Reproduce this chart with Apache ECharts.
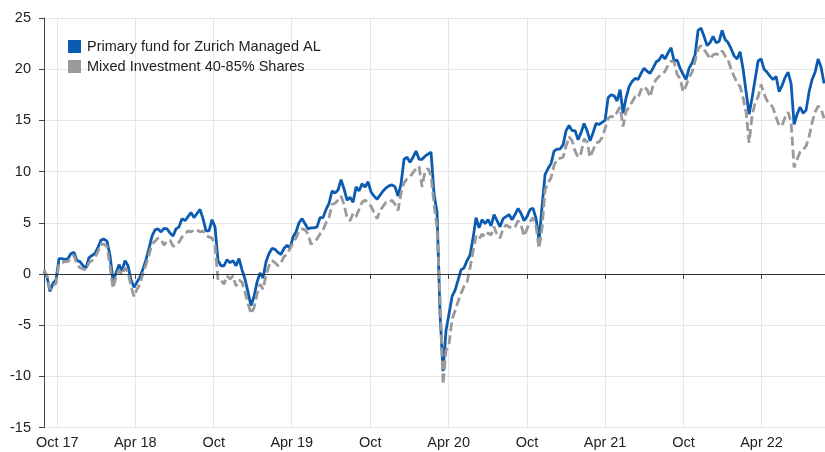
<!DOCTYPE html>
<html>
<head>
<meta charset="utf-8">
<script src="https://cdn.jsdelivr.net/npm/echarts@6/dist/echarts.min.js"></script>
<style>
  html, body { margin: 0; padding: 0; background: #fff; }
  #chart { width: 825px; height: 452px; }
</style>
</head>
<body>
<div id="chart"></div>
<script>
// weekly observations, week 0 = 31 Aug 2017
var startDate = '2017-08-31';

var fundName = 'Primary fund for Zurich Managed AL';
var sectorName = 'Mixed Investment 40-85% Shares';

var fundValues = [
    0.2, -0.3, -1.7, -0.9, -0.6, 1.5, 1.5, 1.4, 1.5, 2.0,
    2.1, 1.3, 1.2, 0.8, 0.6, 1.6, 1.8, 2.0, 2.6, 3.3,
    3.4, 3.2, 1.8, -0.7, 0.1, 0.9, 0.3, 1.3, 0.8, -0.6,
    -1.3, -0.8, -0.3, 0.5, 1.4, 2.5, 3.7, 4.3, 4.4, 4.1,
    4.45, 4.4, 4.0, 3.7, 4.4, 4.6, 5.4, 5.2, 5.6, 6.0,
    5.5, 5.9, 6.3, 5.4, 4.2, 4.2, 5.3, 4.6, 1.3, 0.8,
    0.8, 1.4, 1.1, 1.3, 0.8, 1.5, 0.4, -0.5, -1.8, -3.1,
    -2.2, -0.8, 0.1, -0.4, 1.2, 2.0, 2.5, 2.4, 2.1, 1.9,
    2.5, 2.8, 2.5, 3.6, 4.1, 5.0, 5.4, 4.9, 4.4, 4.5,
    4.5, 4.6, 5.5, 5.5, 6.3, 6.9, 8.1, 7.9, 8.2, 9.2,
    8.3, 7.2, 7.5, 7.0, 8.5, 8.1, 8.8, 8.5, 9.0, 8.0,
    7.6, 7.3, 7.7, 8.1, 8.4, 8.6, 8.7, 8.5, 7.6, 8.8,
    11.2, 11.4, 10.9, 11.4, 12.0, 11.2, 11.2, 11.5, 11.7, 11.9,
    7.8, 6.0, -3.9, -9.5, -5.5, -3.9, -2.2, -1.6, -0.6, 0.4,
    0.6, 1.3, 1.85, 3.5, 5.5, 4.5, 5.3, 4.9, 5.3, 4.7,
    5.8, 5.2, 4.6, 5.4, 5.6, 5.8, 5.3, 5.8, 6.4, 5.9,
    5.2, 5.6, 6.3, 6.4, 5.4, 3.3, 6.6, 9.7, 10.3, 10.8,
    12.0, 12.2, 12.2, 12.6, 14.0, 14.5, 14.0, 14.0, 13.1, 13.8,
    14.7, 14.0, 13.0, 13.8, 14.7, 14.6, 14.8, 15.0, 17.2, 17.5,
    17.4, 16.9, 18.0, 15.7, 17.2, 18.3, 18.8, 19.1, 19.0, 19.6,
    20.1, 19.8, 19.6, 20.1, 20.7, 20.9, 21.4, 21.0, 21.6, 22.1,
    20.8, 20.9, 20.1, 19.5, 19.0, 20.1, 20.6, 21.4, 23.8, 24.0,
    23.2, 22.3, 22.6, 23.2, 22.6, 22.7, 23.8, 22.9, 22.6, 22.0,
    21.3, 21.0, 21.7, 20.0, 17.8, 15.6, 17.2, 19.0, 20.8, 21.0,
    20.0, 19.7, 19.3, 19.0, 19.3, 17.8, 18.4, 19.2, 19.7, 18.6,
    14.6, 15.6, 16.3, 15.7, 16.0, 17.8, 19.0, 19.7, 21.0, 20.2,
    18.6
];

var sectorValues = [
    0.4, -0.2, -1.5, -1.2, -0.9, 1.0, 1.1, 1.2, 1.2, 1.6,
    1.8, 0.9, 0.6, 0.5, 0.4, 1.1, 1.3, 1.6, 2.2, 2.9,
    2.9, 2.7, 0.8, -1.4, -0.3, 0.4, -0.1, 0.6, 0.2, -1.2,
    -2.2, -1.5, -1.0, 0.1, 0.9, 1.9, 2.9, 3.2, 3.5, 3.4,
    2.8, 3.2, 3.3, 2.7, 2.8, 3.1, 3.6, 3.9, 4.2, 4.1,
    4.3, 4.3, 4.1, 4.2, 3.8, 3.6, 3.5, 2.8, -0.6, -0.6,
    -1.0, -0.2, -0.5, -0.2, -1.2, -0.6, -0.8, -1.8, -2.9, -3.9,
    -3.3, -2.0, -1.0, -1.5, -0.1, 0.8, 1.3, 1.1, 0.8, 1.1,
    1.7, 1.9, 2.5, 3.0, 3.5, 4.2, 4.4, 4.3, 3.9, 2.9,
    3.2, 3.4, 3.9, 4.3, 5.0, 5.5, 6.8, 6.9, 7.2, 7.6,
    6.8, 5.5, 5.2, 5.9, 5.6, 6.3, 7.0, 7.2, 7.0, 6.6,
    6.0, 5.4, 6.2, 6.6, 7.0, 7.0, 7.2, 6.8, 6.2, 7.9,
    8.9, 9.3, 9.5, 9.9, 10.3, 10.5, 8.5, 10.0, 10.3, 9.6,
    6.8, 4.5, -2.3, -10.8, -7.5, -6.9, -4.4, -3.6, -2.7, -1.9,
    -1.2, -0.8, 0.6, 2.2, 3.7, 3.4, 3.9, 3.6, 4.0, 3.8,
    4.6, 3.8, 3.5, 4.4, 4.8, 4.6, 4.5, 4.6, 5.2, 4.8,
    3.7, 4.4, 5.1, 5.5, 4.6, 2.5, 4.5, 8.2, 8.9, 9.4,
    10.6, 11.2, 11.3, 11.4, 12.5, 13.4, 13.0, 12.0, 11.4, 11.8,
    13.2, 12.9, 11.4, 12.1, 12.8, 12.9, 13.3, 14.2, 15.2, 15.4,
    15.3, 15.8, 16.3, 14.4, 15.9, 16.3, 16.8, 17.3, 17.2, 18.0,
    18.3, 18.0, 17.3, 18.4, 19.0, 19.3, 19.5, 19.8, 20.4, 20.8,
    20.7, 19.5, 19.1, 17.8, 18.4, 19.2, 19.7, 20.8, 22.0, 22.3,
    21.9, 21.5, 21.0, 21.4, 21.5, 21.4, 21.8, 21.3, 20.9, 20.0,
    19.3, 18.7, 18.3, 17.2, 15.8, 12.8, 15.5, 16.7, 17.3, 18.5,
    17.6, 16.9, 16.7, 16.2, 15.3, 14.5, 14.5, 15.3, 15.8, 14.8,
    10.4, 11.2, 11.9, 12.1, 12.5, 13.4, 14.8, 15.8, 16.4, 16.1,
    15.2
];

var tickDates = ['2017-10-01', '2018-04-01', '2018-10-01', '2019-04-01', '2019-10-01',
    '2020-04-01', '2020-10-01', '2021-04-01', '2021-10-01', '2022-04-01'];
var tickLabels = ['Oct 17', 'Apr 18', 'Oct', 'Apr 19', 'Oct', 'Apr 20', 'Oct', 'Apr 21', 'Oct', 'Apr 22'];

var yTicks = [-15, -10, -5, 0, 5, 10, 15, 20, 25];

// tick positions in weeks from the start date
var weekMs = 7 * 24 * 3600 * 1000;
var t0 = Date.parse(startDate + 'T00:00:00Z');
var tickWeeks = tickDates.map(function (d) {
    return (Date.parse(d + 'T00:00:00Z') - t0) / weekMs;
});

function toPairs(values) {
    return values.map(function (v, i) { return [i, v]; });
}

var chart = echarts.init(document.getElementById('chart'));
var font = 'Liberation Sans, Arial, sans-serif';

chart.setOption({
    animation: false,
    textStyle: { fontFamily: font },
    grid: { left: 44, right: 0, top: 18, bottom: 24.5, containLabel: false },
    legend: {
        orient: 'vertical',
        left: 63,
        top: 34,
        itemWidth: 13,
        itemHeight: 13,
        itemGap: 5,
        icon: 'rect',
        textStyle: { fontSize: 14.5, color: '#222', fontFamily: font, padding: [0, 0, 0, 1] },
        data: [fundName, sectorName]
    },
    xAxis: {
        type: 'value',
        min: 0,
        max: 260.3,
        axisLine: { show: true, lineStyle: { color: '#444', width: 1 } },
        axisTick: { show: true, length: 5, lineStyle: { color: '#444' }, customValues: tickWeeks },
        axisLabel: {
            customValues: tickWeeks,
            color: '#222',
            fontSize: 14.5,
            margin: 8,
            formatter: function (val) {
                var k = 0, best = Infinity;
                tickWeeks.forEach(function (w, j) {
                    if (Math.abs(w - val) < best) { best = Math.abs(w - val); k = j; }
                });
                return tickLabels[k];
            }
        },
        splitLine: { show: true, lineStyle: { color: '#e6e6e6', width: 1 } }
    },
    yAxis: {
        type: 'value',
        min: yTicks[0],
        max: yTicks[yTicks.length - 1],
        interval: 5,
        axisLine: { show: true, lineStyle: { color: '#444', width: 1 } },
        axisTick: { show: true, length: 5, lineStyle: { color: '#444' } },
        axisLabel: { color: '#222', fontSize: 14.5, margin: 13 },
        splitLine: { show: true, lineStyle: { color: '#e6e6e6', width: 1 } }
    },
    series: [
        {
            name: fundName,
            type: 'line',
            showSymbol: false,
            symbol: 'none',
            color: '#0b5cb0',
            lineStyle: { width: 2.8, color: '#0b5cb0' },
            data: toPairs(fundValues),
            markLine: {
                silent: true,
                symbol: 'none',
                label: { show: false },
                lineStyle: { color: '#333', width: 1, type: 'solid' },
                data: [{ yAxis: 0 }]
            },
            z: 2
        },
        {
            name: sectorName,
            type: 'line',
            showSymbol: false,
            symbol: 'none',
            color: '#9a9a9c',
            lineStyle: { width: 2.8, color: '#9a9a9c', type: [9, 4] },
            data: toPairs(sectorValues),
            z: 3
        }
    ]
});
</script>
</body>
</html>
